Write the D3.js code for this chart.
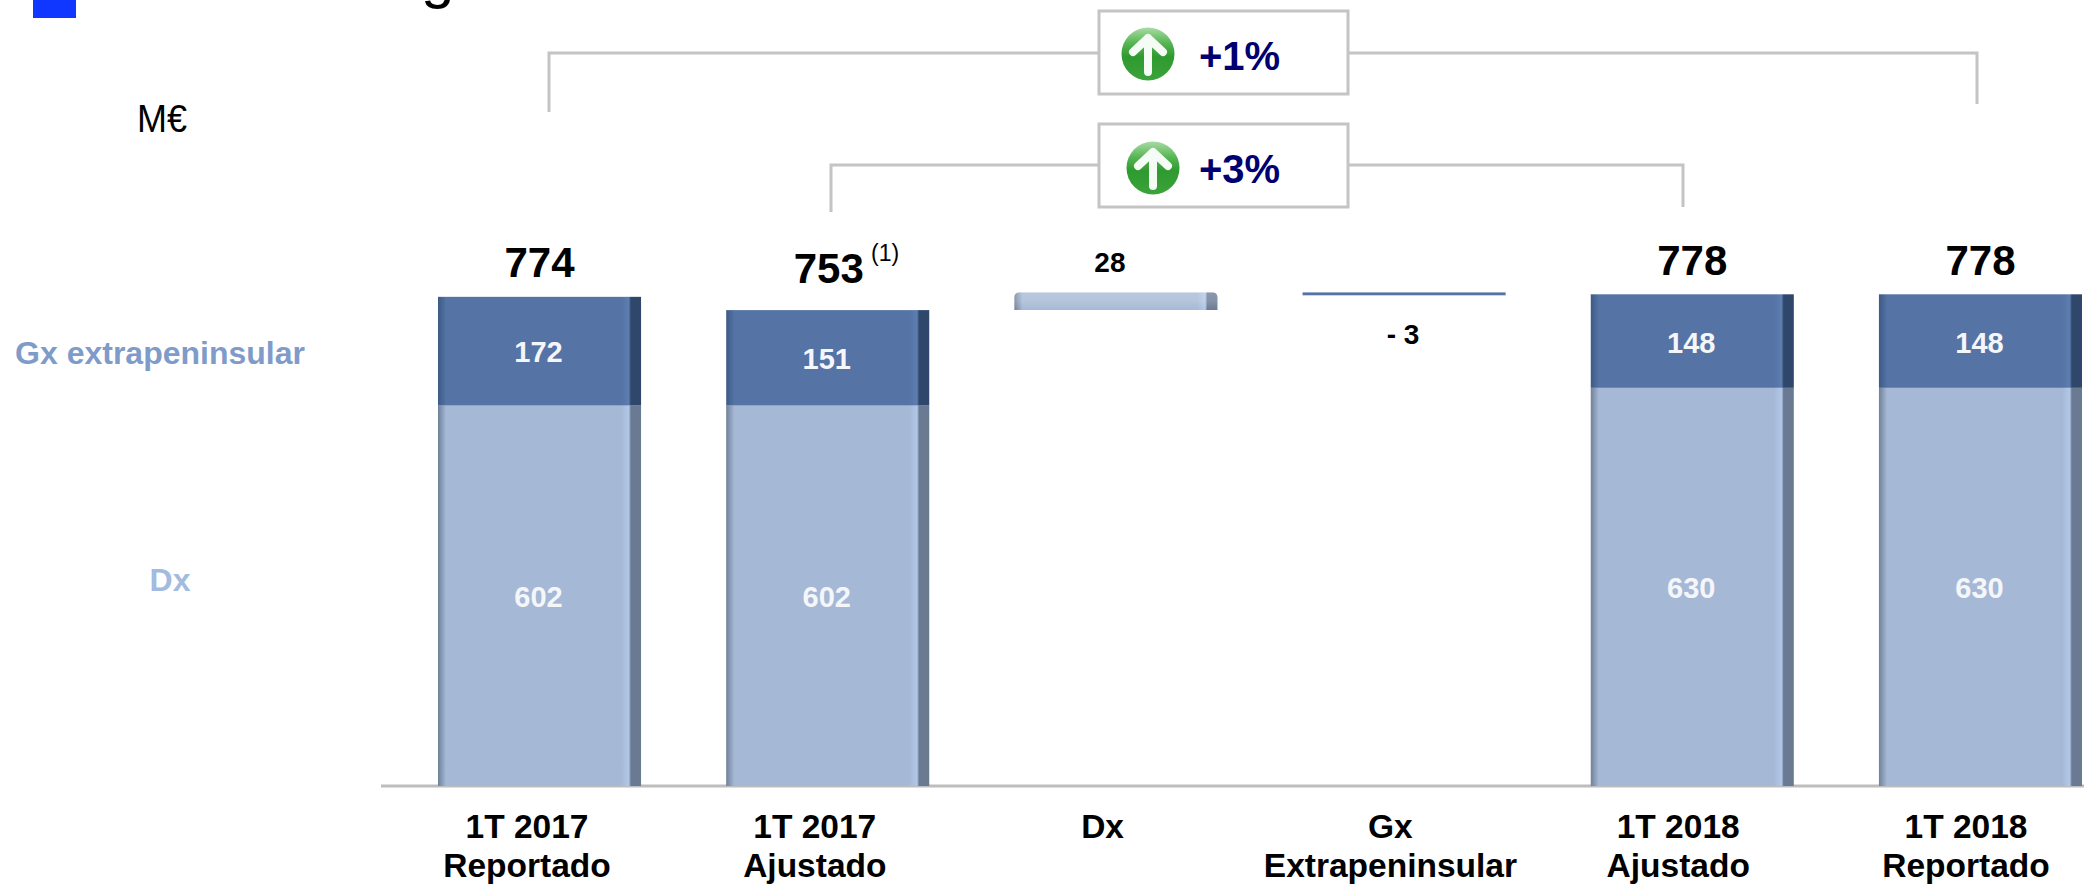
<!DOCTYPE html>
<html><head><meta charset="utf-8">
<style>html,body{margin:0;padding:0;background:#fff;overflow:hidden}svg{display:block}text{font-family:"Liberation Sans",Arial,sans-serif}</style>
<script src="https://cdn.jsdelivr.net/npm/d3@7"></script></head><body>
<svg id="c" width="2084" height="884"></svg>
<script>
const categories = [["1T 2017","Reportado"],["1T 2017","Ajustado"],["Dx"],["Gx","Extrapeninsular"],["1T 2018","Ajustado"],["1T 2018","Reportado"]];
const dxValues = [602,602,null,null,630,630];
const gxValues = [172,151,null,null,148,148];
const totals = [774,753,null,null,778,778];
const deltaLabels = ["28","- 3"];
const deltaValues = [28,-3];
const seriesNames = ["Gx extrapeninsular","Dx"];
const changes = ["+1%","+3%"];

const svg = d3.select("#c");
const defs = svg.append("defs");
const shade = (id, edge, main, hi, dark) => {
  const g = defs.append("linearGradient").attr("id", id);
  [[0,edge],[0.04,main],[0.9,main],[0.94,hi],[0.95,dark],[1,dark]]
    .forEach(([o,c]) => g.append("stop").attr("offset", o).attr("stop-color", c));
};
shade("gDark","#3d5a85","#5473a5","#5e7db0","#2f476b");
shade("gLight","#6f8099","#a5b8d5","#b2c7e8","#6a7a93");
defs.append("filter").attr("id","soft").attr("x","-2%").attr("y","-2%").attr("width","104%").attr("height","104%")
  .append("feGaussianBlur").attr("stdDeviation",0.7);
const dg = defs.append("linearGradient").attr("id","gGreen").attr("x1",0).attr("x2",0).attr("y1",0).attr("y2",1);
[[0,"#a9dba5"],[0.3,"#55b552"],[0.55,"#2f9a30"],[1,"#3aa33a"]].forEach(([o,c])=>dg.append("stop").attr("offset",o).attr("stop-color",c));
const dt = defs.append("linearGradient").attr("id","gTop").attr("x1",0).attr("x2",0).attr("y1",0).attr("y2",1);
[[0,"#ffffff"],[0.5,"#ffffff"],[1,"#ffffff"]].forEach(([o,c],k)=>dt.append("stop").attr("offset",o).attr("stop-color",c).attr("stop-opacity",[0.22,0.18,0][k]));

const x = d3.scaleBand().domain(d3.range(6)).range([438,2082]).paddingInner(0.2954).paddingOuter(0);
const xLabel = d3.scalePoint().domain(d3.range(6)).range([527,1966]);
const y = d3.scaleLinear().domain([0,800]).range([786,280.4]);

// header fragments
svg.append("rect").attr("x",33).attr("y",-2).attr("width",43).attr("height",20).attr("fill","#0f37ff");
svg.append("text").attr("x",421).attr("y",-3).attr("font-size",60).attr("fill","#000").text("g");
svg.append("text").attr("x",137).attr("y",132).attr("font-size",39).attr("textLength",50).attr("lengthAdjust","spacingAndGlyphs").text("M€");

// baseline
svg.append("line").attr("x1",381).attr("x2",2084).attr("y1",y(0)).attr("y2",y(0)).attr("stroke","#bdbdbd").attr("stroke-width",3);

const bars = svg.append("g").attr("filter","url(#soft)");
// stacked bars
const idx = d3.range(6).filter(i => dxValues[i] !== null);
bars.selectAll(".dx").data(idx).join("rect").attr("class","dx").attr("x",i=>x(i)).attr("width",x.bandwidth())
  .attr("y",i=>y(dxValues[i])).attr("height",i=>y(0)-y(dxValues[i])).attr("fill","url(#gLight)");
bars.selectAll(".gx").data(idx).join("rect").attr("class","gx").attr("x",i=>x(i)).attr("width",x.bandwidth())
  .attr("y",i=>y(dxValues[i]+gxValues[i])).attr("height",i=>y(0)-y(gxValues[i])).attr("fill","url(#gDark)");

// bridge bars
const base0 = totals[1], base1 = base0 + deltaValues[0], base2 = base1 + deltaValues[1];
const roundTop = (l,w,t,b,r) => `M${l},${b}V${t+r}Q${l},${t} ${l+r},${t}H${l+w-r}Q${l+w},${t} ${l+w},${t+r}V${b}Z`;
const dPath = roundTop(x(2),x.bandwidth(),y(base1),y(base0),5);
bars.append("path").attr("d",dPath).attr("fill","url(#gLight)");
bars.append("path").attr("d",dPath).attr("fill","url(#gTop)");
bars.append("rect").attr("x",x(3)).attr("width",x.bandwidth()).attr("y",y(base1)).attr("height",y(base2)-y(base1)+1).attr("fill","#5473a5");

// value labels
const mid = i => x(i)+x.bandwidth()/2;
const inLabel = (i,v,vb,extra) => svg.append("text").attr("x",mid(i)-1).attr("y",y(vb+v/2)+extra).attr("text-anchor","middle")
  .attr("font-size",29).attr("font-weight",700).attr("fill","#f4f6fa").text(v);
idx.forEach(i=>{ inLabel(i,dxValues[i],0,11); inLabel(i,gxValues[i],dxValues[i],i>3?12:11); });

const totalY = [277,283,null,null,275,275];
idx.forEach(i=>svg.append("text").attr("x",mid(i)+(i==1?1:0)).attr("y",totalY[i]).attr("text-anchor","middle")
  .attr("font-size",42).attr("font-weight",700).text(totals[i]));
svg.append("text").attr("x",871).attr("y",261).attr("font-size",23).text("(1)");
svg.append("text").attr("x",mid(2)-6).attr("y",272).attr("text-anchor","middle").attr("font-size",28).attr("font-weight",700).text(deltaLabels[0]);
svg.append("text").attr("x",mid(3)-1).attr("y",344).attr("text-anchor","middle").attr("font-size",28).attr("font-weight",700).text(deltaLabels[1]);

// category labels
categories.forEach((c,i)=>c.forEach((t,k)=>svg.append("text").attr("x",xLabel(i)).attr("y",838+39*k)
  .attr("text-anchor","middle").attr("font-size",33.5).attr("font-weight",700).text(t)));

// series labels
svg.append("text").attr("x",160).attr("y",364).attr("text-anchor","middle").attr("font-size",32).attr("font-weight",700).attr("fill","#7f9bc9").text(seriesNames[0]);
svg.append("text").attr("x",170).attr("y",591).attr("text-anchor","middle").attr("font-size",32).attr("font-weight",700).attr("fill","#a3bbdf").text(seriesNames[1]);

// growth brackets
const brackets = [
 {pts:[[549,112],[549,53],[1977,53],[1977,104]],box:[1099,11],icon:[1148,54],t:changes[0]},
 {pts:[[831,212],[831,165],[1683,165],[1683,207]],box:[1099,124],icon:[1153,168],t:changes[1]}];
brackets.forEach(b=>{
  svg.append("path").attr("d",d3.line()(b.pts)).attr("fill","none").attr("stroke","#c4c4c4").attr("stroke-width",3);
  svg.append("rect").attr("x",b.box[0]).attr("y",b.box[1]).attr("width",249).attr("height",83).attr("fill","#fff").attr("stroke","#c4c4c4").attr("stroke-width",3);
  svg.append("circle").attr("cx",b.icon[0]).attr("cy",b.icon[1]).attr("r",26.5).attr("fill","url(#gGreen)");
  const g = svg.append("g").attr("transform",`translate(${b.icon[0]},${b.icon[1]})`);
  g.append("path").attr("d","M0,18V-16M-15,-2L0,-16L15,-2").attr("fill","none").attr("stroke","#f5fbf5").attr("stroke-width",8).attr("stroke-linecap","round").attr("stroke-linejoin","round");
  svg.append("text").attr("x",1199).attr("y",b.box[1]+59).attr("font-size",40).attr("font-weight",700).attr("fill","#000070").text(b.t);
});
</script></body></html>
